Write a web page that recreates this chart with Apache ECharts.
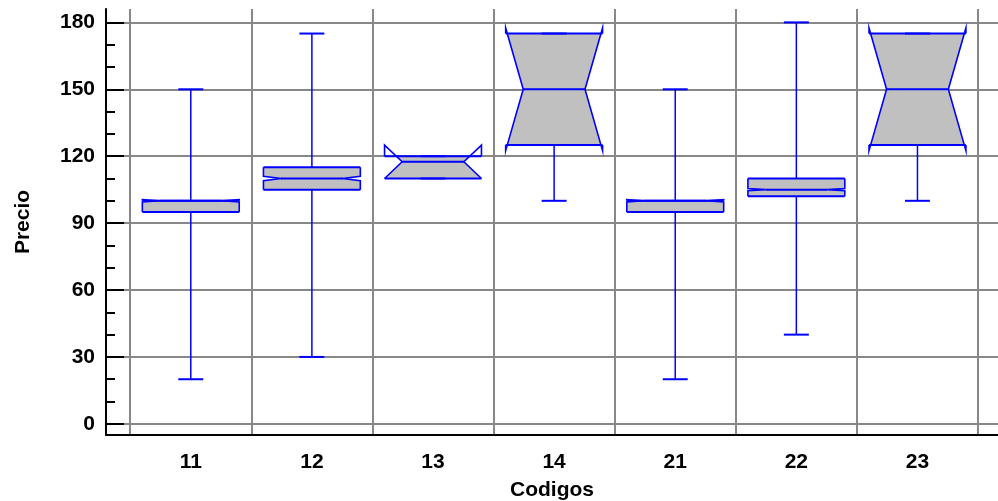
<!DOCTYPE html>
<html><head><meta charset="utf-8">
<script src="https://cdn.jsdelivr.net/npm/echarts@6/dist/echarts.min.js"></script>
<style>html,body{margin:0;padding:0;background:#fff}#c{width:998px;height:501px}</style>
</head><body><div id="c"></div>
<script>
const categories = ['11', '12', '13', '14', '21', '22', '23'];
const whiskerLow = [20, 30, 110, 100, 20, 40, 100];
const q1 = [95, 105, 110, 125, 95, 102, 125];
const median = [100, 110, 117.5, 150, 100, 105, 150];
const q3 = [100, 115, 120, 175, 100, 110, 175];
const whiskerHigh = [150, 175, 120, 175, 150, 180, 175];
const notchLow = [99.5, 109, 110, 122.5, 99.5, 104.5, 122.5];
const notchHigh = [100.5, 111, 125, 177.5, 100.5, 105.5, 177.5];
const yMajorTicks = [0, 30, 60, 90, 120, 150, 180];
const yMinorTicks = [10, 20, 40, 50, 70, 80, 100, 110, 130, 140, 160, 170];
const categoryPositions = [1, 2, 3, 4, 5, 6, 7];
const categoryBoundaries = [0.5, 1.5, 2.5, 3.5, 4.5, 5.5, 6.5, 7.5];

const FONT = "'Liberation Sans', Arial, Helvetica, sans-serif";
const BLUE = '#0000ff';
const FILL = '#c0c0c0';
const GRID = '#888888';

const data = categories.map((c, i) => [categoryPositions[i], whiskerLow[i], q1[i], median[i], q3[i], whiskerHigh[i], notchLow[i], notchHigh[i]]);

function renderItem(params, api) {
  const x = api.value(0);
  const unit = api.size([1, 0])[0];
  const half = unit * 0.4, waist = unit * 0.255, cap = unit * 0.103;
  const cx = api.coord([x, 0])[0];
  const Y = v => api.coord([x, v])[1];
  const lo = api.value(1), a = api.value(2), m = api.value(3), b = api.value(4), hi = api.value(5), nl = api.value(6), nh = api.value(7);
  function w(v) {
    if (v <= nl || v >= nh) return half;
    if (v <= m) return waist + (half - waist) * (m - v) / (m - nl);
    return waist + (half - waist) * (v - m) / (nh - m);
  }
  const clamp = v => Math.max(a, Math.min(b, v));
  const vs = [a, clamp(nl), clamp(m), clamp(nh), b];
  const fillPts = vs.map(v => [cx - w(v), Y(v)]).concat(vs.slice().reverse().map(v => [cx + w(v), Y(v)]));
  const lineStyle = { stroke: BLUE, lineWidth: 2, fill: null };
  const notchStyle = { stroke: BLUE, lineWidth: 1.6, fill: null };
  const thin = { stroke: BLUE, lineWidth: 1.5, fill: null };
  const children = [
    { type: 'polygon', shape: { points: fillPts }, style: { fill: FILL, stroke: null } },
    { type: 'line', shape: { x1: cx, y1: Y(b), x2: cx, y2: Y(hi) }, style: thin },
    { type: 'line', shape: { x1: cx, y1: Y(a), x2: cx, y2: Y(lo) }, style: thin },
    { type: 'line', shape: { x1: cx - cap, y1: Y(hi), x2: cx + cap, y2: Y(hi) }, style: lineStyle },
    { type: 'line', shape: { x1: cx - cap, y1: Y(lo), x2: cx + cap, y2: Y(lo) }, style: lineStyle },
    { type: 'polyline', shape: { points: [[cx - half, Y(a)], [cx - half, Y(nl)], [cx - waist, Y(m)], [cx - half, Y(nh)], [cx - half, Y(b)]] }, style: notchStyle },
    { type: 'polyline', shape: { points: [[cx + half, Y(a)], [cx + half, Y(nl)], [cx + waist, Y(m)], [cx + half, Y(nh)], [cx + half, Y(b)]] }, style: notchStyle },
    { type: 'line', shape: { x1: cx - half, y1: Y(a), x2: cx + half, y2: Y(a) }, style: lineStyle },
    { type: 'line', shape: { x1: cx - half, y1: Y(b), x2: cx + half, y2: Y(b) }, style: lineStyle },
    { type: 'line', shape: { x1: cx - waist, y1: Y(m), x2: cx + waist, y2: Y(m) }, style: lineStyle }
  ];
  return { type: 'group', children };
}

const textStyle = { color: '#000', fontSize: 21, fontWeight: 'bold', fontFamily: FONT };
const chart = echarts.init(document.getElementById('c'));
chart.setOption({
  animation: false,
  backgroundColor: '#fff',
  grid: { left: 106, right: 0, top: 9, bottom: 66, containLabel: false, outerBoundsMode: 'none' },
  xAxis: {
    type: 'value', min: 0.3, max: 7.665,
    axisLine: { show: true, onZero: false, lineStyle: { color: '#000', width: 2 } },
    axisTick: { show: true, customValues: categoryBoundaries, length: 0, lineStyle: { color: GRID } },
    axisLabel: Object.assign({ customValues: categoryPositions, margin: 17, formatter: v => categories[Math.round(v) - 1] }, textStyle),
    splitLine: { show: true, lineStyle: { color: GRID, width: 2 } },
    name: 'Codigos', nameLocation: 'middle', nameGap: 45, nameTextStyle: textStyle
  },
  yAxis: [{
    type: 'value', min: -5, max: 186, position: 'left',
    axisLine: { show: true, lineStyle: { color: '#000', width: 2 } },
    axisTick: { show: true, inside: true, length: 18, customValues: yMajorTicks, lineStyle: { color: '#000', width: 2 } },
    axisLabel: Object.assign({ customValues: yMajorTicks, margin: 11 }, textStyle),
    splitLine: { show: true, lineStyle: { color: GRID, width: 2 } },
    name: 'Precio', nameLocation: 'middle', nameRotate: 90, nameGap: 72, nameTextStyle: textStyle
  }, {
    type: 'value', min: -5, max: 186, position: 'left', offset: 0,
    axisLine: { show: false },
    axisTick: { show: true, inside: true, length: 9, customValues: yMinorTicks, lineStyle: { color: '#000', width: 2 } },
    axisLabel: { show: false },
    splitLine: { show: false }
  }],
  series: [{
    type: 'custom', renderItem, data,
    encode: { x: 0, y: [1, 5] },
    xAxisIndex: 0, yAxisIndex: 0, z: 3
  }]
});
</script></body></html>
